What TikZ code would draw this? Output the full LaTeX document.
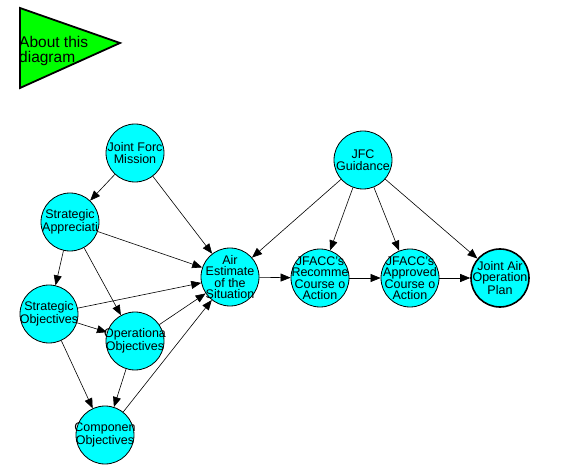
\documentclass[tikz,border=0pt]{standalone}
\usepackage{fontspec}
\setmainfont{Liberation Sans}
\usepackage{xcolor}
\usetikzlibrary{arrows.meta,positioning}
\definecolor{nodecyan}{RGB}{0, 255, 255}
\definecolor{aboutgreen}{RGB}{0, 255, 0}

\begin{document}
\begin{tikzpicture}[x=1pt, y=-1pt,
    topic/.style={circle, draw=black, line width=0.8pt, fill=nodecyan, minimum size=58pt, inner sep=-8pt, align=center, font=\fontsize{12.5}{11.5}\selectfont},
    link/.style={-{Triangle[length=10pt, width=8pt]}, line width=0.6pt}]
    \useasboundingbox (0,0) rectangle (571,476);
    \draw[line width=1.8pt, fill=aboutgreen] (20,8) -- (120,43) -- (20,88) -- cycle;
    \node[anchor=west, align=left, inner sep=0pt, font=\fontsize{15.5}{15}\selectfont] (about) at (19,51) {About this\\diagram};

    \node[topic] (mission) at (135,153) {Joint Forc\\Mission};
    \node[topic] (apprec) at (70,222) {Strategic\\Appreciati};
    \node[topic] (stratobj) at (49,314) {Strategic\\Objectives};
    \node[topic] (opobj) at (135,341) {Operationa\\Objectives};
    \node[topic] (compobj) at (105,435) {Componen\\Objectives};
    \node[topic] (estimate) at (230,277) {Air\\Estimate\\of the\\Situation};
    \node[topic] (recomm) at (320,278) {JFACC's\\Recomme\\Course o\\Action};
    \node[topic] (approved) at (410,278) {JFACC's\\Approved\\Course o\\Action};
    \node[topic, line width=1.6pt] (plan) at (500,278) {Joint Air\\Operation\\Plan};
    \node[topic] (guidance) at (363,160) {JFC\\Guidance};

    \draw[link] (mission) -- (apprec);
    \draw[link] (mission) -- (estimate);
    \draw[link] (apprec) -- (stratobj);
    \draw[link] (apprec) -- (opobj);
    \draw[link] (apprec) -- (estimate);
    \draw[link] (stratobj) -- (estimate);
    \draw[link] (stratobj) -- (opobj);
    \draw[link] (stratobj) -- (compobj);
    \draw[link] (opobj) -- (compobj);
    \draw[link] (opobj) -- (estimate);
    \draw[link] (compobj) -- (estimate);
    \draw[link] (estimate) -- (recomm);
    \draw[link] (recomm) -- (approved);
    \draw[link] (approved) -- (plan);
    \draw[link] (guidance) -- (estimate);
    \draw[link] (guidance) -- (recomm);
    \draw[link] (guidance) -- (approved);
    \draw[link] (guidance) -- (plan);
\end{tikzpicture}
\end{document}
